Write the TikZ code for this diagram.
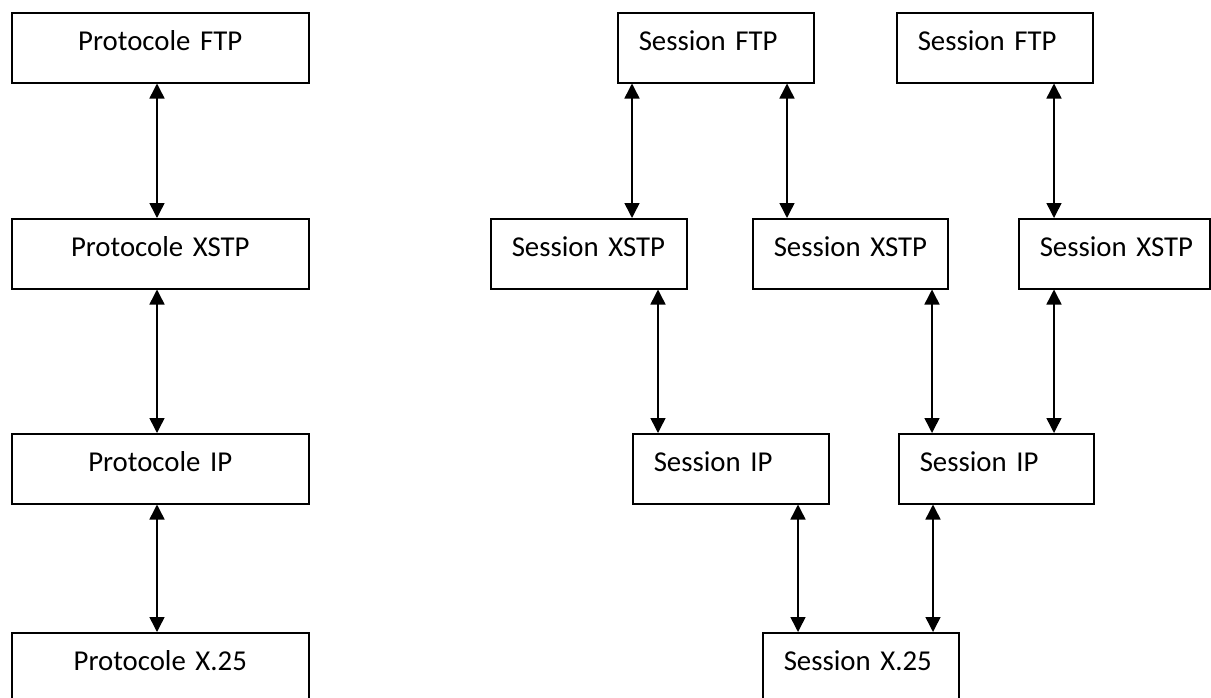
\documentclass[tikz,border=0pt]{standalone}
\usepackage{fontspec}
\setmainfont{Carlito}
\usetikzlibrary{arrows.meta}
\begin{document}
\begin{tikzpicture}[x=1pt,y=-1pt,
 box/.style={draw, line width=1.5pt, anchor=north west, minimum height=70pt, inner ysep=0pt, text height=38pt, text depth=32pt, font=\fontsize{28.8}{34}\selectfont},
 pbox/.style={box, inner xsep=0pt, text width=297pt, align=center},
 sbox/.style={box, inner xsep=21pt, text width=154pt, align=left},
 link/.style={line width=1.5pt, {Triangle[width=15pt,length=15pt]}-{Triangle[width=15pt,length=15pt]}},
]
\useasboundingbox (0,0) rectangle (1211,697);
\fill[white] (0,0) rectangle (1211,697);
\clip (0,0) rectangle (1211,697);

% left column
\node[pbox] (pftp)  at (11,12)  {Protocole FTP};
\node[pbox] (pxstp) at (11,218) {Protocole XSTP};
\node[pbox] (pip)   at (11,433) {Protocole IP};
\node[pbox] (px25)  at (11,632) {Protocole X.25};

% right part
\node[sbox] (sftp1)  at (617,12)  {Session FTP};
\node[sbox] (sftp2)  at (896,12)  {Session FTP};
\node[sbox] (sxstp1) at (490,218) {\mbox{Session XSTP}};
\node[sbox, text width=153pt] (sxstp2) at (752,218) {\mbox{Session XSTP}};
\node[sbox, text width=149pt] (sxstp3) at (1018,218) {\mbox{Session XSTP}};
\node[sbox] (sip1)   at (632,433) {Session IP};
\node[sbox, text width=153pt] (sip2)   at (898,433) {Session IP};
\node[sbox] (sx25)   at (762,632) {Session X.25};

% connectors left
\draw[link] (pftp.south -| 157,0)  -- (pxstp.north -| 157,0);
\draw[link] (pxstp.south -| 157,0) -- (pip.north -| 157,0);
\draw[link] (pip.south -| 157,0)   -- (px25.north -| 157,0);

% connectors right
\draw[link] (sftp1.south -| 632,0)  -- (sxstp1.north -| 632,0);
\draw[link] (sftp1.south -| 787,0)  -- (sxstp2.north -| 787,0);
\draw[link] (sftp2.south -| 1054,0) -- (sxstp3.north -| 1054,0);
\draw[link] (sxstp1.south -| 658,0) -- (sip1.north -| 658,0);
\draw[link] (sxstp2.south -| 932,0) -- (sip2.north -| 932,0);
\draw[link] (sxstp3.south -| 1054,0) -- (sip2.north -| 1054,0);
\draw[link] (sip1.south -| 798,0)   -- (sx25.north -| 798,0);
\draw[link] (sip2.south -| 933,0)   -- (sx25.north -| 933,0);
\end{tikzpicture}
\end{document}
